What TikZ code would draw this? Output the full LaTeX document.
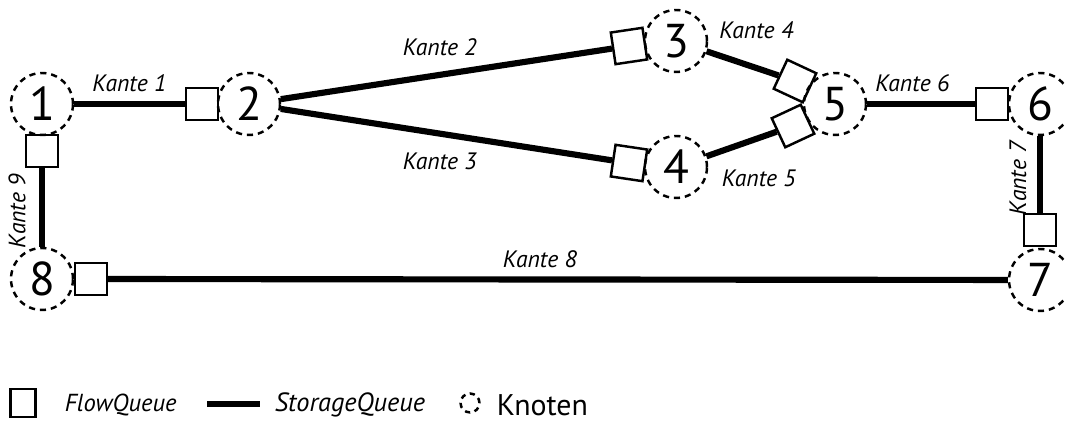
\documentclass[tikz,border=0pt]{standalone}
\usepackage{fontspec}
\setmainfont{PT Sans}
\usetikzlibrary{positioning}

\begin{document}
\begin{tikzpicture}[x=0.02cm,y=-0.02cm,
      knot/.style={circle,draw,line width=1.4pt,dash pattern=on 3.5pt off 2.8pt,
         minimum size=1.24cm,inner sep=0pt,font=\fontsize{27}{27}\selectfont},
      flowq/.style={rectangle,draw,line width=1.4pt,minimum size=0.64cm,inner sep=0pt},
      store/.style={line width=3.5pt},
      lbl/.style={font=\itshape\fontsize{13.5}{15}\selectfont,inner sep=2pt}]
            \useasboundingbox (0,0) rectangle (1065,428);

            % Knoten
            \node [knot] (n1) at (42,104) {1};
            \node [knot] (n2) at (249,104) {2};
            \node [knot] (n3) at (676,41) {3};
            \node [knot] (n4) at (676,167) {4};
            \node [knot] (n5) at (835,104) {5};
            \node [knot] (n6) at (1040,104) {6};
            \node [knot] (n7) at (1040,280) {7};
            \node [knot] (n8) at (42,279) {8};

            % FlowQueues
            \node [flowq] (q1) at (202,104) {};
            \node [flowq,rotate=8.5] (q2) at (629,46) {};
            \node [flowq,rotate=-8.5] (q3) at (629,163) {};
            \node [flowq,rotate=-25] (q4) at (795,81) {};
            \node [flowq,rotate=25] (q5) at (793,126) {};
            \node [flowq] (q6) at (992,104) {};
            \node [flowq] (q7) at (1040,230) {};
            \node [flowq] (q8) at (91,279) {};
            \node [flowq] (q9) at (42,151) {};

            % StorageQueues
            \draw [store] (n1) -- node [lbl,above=3pt] (k1) {Kante 1} (q1);
            \draw [store] (n2) -- node [lbl,above=7pt,pos=0.48] (k2) {Kante 2} (q2);
            \draw [store] (n2) -- node [lbl,below=7pt,pos=0.48] (k3) {Kante 3} (q3);
            \draw [store] (n3) -- node [lbl,above right=10pt and -17pt] (k4) {Kante 4} (q4);
            \draw [store] (n4) -- node [lbl,below right=11pt and -15pt] (k5) {Kante 5} (q5);
            \draw [store] (n5) -- node [lbl,above=3pt,pos=0.42] (k6) {Kante 6} (q6);
            \draw [store] (n6) -- (q7);
            \draw [store] (n7) -- node [lbl,above=3pt,pos=0.52] (k8) {Kante 8} (q8);
            \draw [store] (n8) -- (q9);
            \node [lbl,rotate=90] (k7) at (1018,178) {Kante 7};
            \node [lbl,rotate=90] (k9) at (17,211) {Kante 9};

            % Legende
            \node [flowq,minimum width=0.5cm,minimum height=0.56cm] (lq) at (23,403) {};
            \node [lbl,font=\itshape\fontsize{14}{16}\selectfont,anchor=west] (lqt) at (61,405) {FlowQueue};
            \coordinate (ls1) at (207,404);
            \coordinate (ls2) at (260,404);
            \draw [store] (ls1) -- (ls2);
            \node [lbl,font=\itshape\fontsize{15}{17}\selectfont,anchor=west] (lst) at (271,405) {StorageQueue};
            \node [knot,minimum size=0.38cm,line width=1.4pt,dash pattern=on 3pt off 2.6pt] (lk) at (470,403) {};
            \node [lbl,font=\fontsize{17}{19}\selectfont,anchor=west] (lkt) at (493,405) {Knoten};
         \end{tikzpicture}
\end{document}
